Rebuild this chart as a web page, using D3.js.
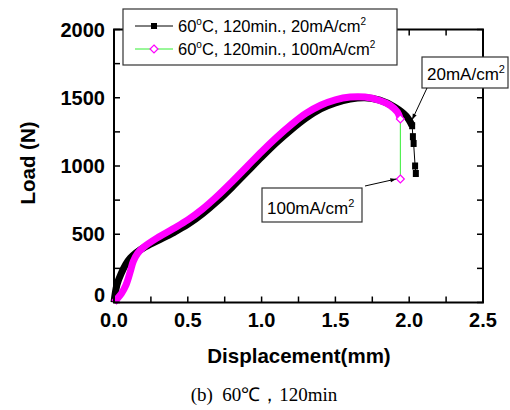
<!doctype html>
<html>
<head>
<meta charset="utf-8">
<title>Load vs displacement</title>
<script src="https://cdn.jsdelivr.net/npm/d3@7"></script>
<style>
  body { margin: 0; background: #fff; }
  svg { display: block; }
  .tick-label { font-family: "Liberation Sans", Arial, sans-serif; font-weight: bold; font-size: 20px; }
  .axis-title { font-family: "Liberation Sans", Arial, sans-serif; font-weight: bold; font-size: 20.5px; }
  .legend-text { font-family: "Liberation Sans", Arial, sans-serif; font-size: 16.5px; }
  .note { font-family: "Liberation Sans", Arial, sans-serif; font-size: 17px; }
</style>
</head>
<body>
<div id="chart"></div>
<script>
  // 20 mA/cm2 - dense part of the curve (drawn as a thick band of markers)
  const blackX = [0, 0.02, 0.05, 0.08, 0.11, 0.15, 0.2, 0.3, 0.4, 0.5, 0.6, 0.7, 0.8, 0.9, 1.0, 1.1, 1.2, 1.3, 1.4, 1.5, 1.6, 1.7, 1.8, 1.9, 1.98, 2.02]
  const blackY = [0, 130, 215, 280, 325, 365, 400, 455, 510, 572, 650, 742, 845, 955, 1065, 1170, 1265, 1350, 1418, 1462, 1490, 1500, 1482, 1432, 1365, 1295]
  // 20 mA/cm2 - sparse tail after the drop
  const blackTailX = [2.02, 2.025, 2.03, 2.04, 2.045]
  const blackTailY = [1295, 1215, 1165, 1000, 945]

  // 100 mA/cm2
  const pinkX = [0, 0.02, 0.05, 0.08, 0.11, 0.13, 0.16, 0.2, 0.3, 0.4, 0.5, 0.6, 0.7, 0.8, 0.9, 1.0, 1.1, 1.2, 1.3, 1.4, 1.5, 1.6, 1.7, 1.8, 1.87, 1.92, 1.94]
  const pinkY = [0, 25, 65, 125, 225, 300, 360, 405, 478, 540, 605, 685, 780, 885, 995, 1105, 1208, 1302, 1385, 1445, 1485, 1505, 1505, 1480, 1445, 1395, 1345]
  const pinkTailX = [1.94, 1.94]
  const pinkTailY = [1345, 905]

  const seriesNames = ['20mA/cm', '100mA/cm']
  const xTicks = [0, 0.5, 1.0, 1.5, 2.0, 2.5]
  const yTicks = [0, 500, 1000, 1500, 2000]

  const width = 510, height = 410
  const margin = {top: 29.5, right: 27, bottom: 107.5, left: 114}

  const svg = d3.select('#chart').append('svg')
    .attr('width', width)
    .attr('height', height)

  const x = d3.scaleLinear().domain([0, 2.5]).range([margin.left, width - margin.right])
  const y = d3.scaleLinear().domain([0, 2000]).range([height - margin.bottom, margin.top])

  const zip = (xs, ys) => xs.map((v, i) => [v, ys[i]])
  const line = d3.line().x(d => x(d[0])).y(d => y(d[1])).curve(d3.curveCatmullRom)
  const lineStraight = d3.line().x(d => x(d[0])).y(d => y(d[1]))

  const plot = svg.append('g')

  // black band (drawn first, sits under the magenta one)
  plot.append('path')
    .attr('d', line(zip(blackX, blackY)))
    .attr('fill', 'none')
    .attr('stroke', '#000')
    .attr('stroke-width', 7)
    .attr('stroke-linejoin', 'round')

  plot.append('path')
    .attr('d', lineStraight(zip(blackTailX, blackTailY)))
    .attr('fill', 'none')
    .attr('stroke', '#000')
    .attr('stroke-width', 1)

  plot.selectAll('rect.sq')
    .data(zip(blackTailX, blackTailY))
    .join('rect')
    .attr('class', 'sq')
    .attr('x', d => x(d[0]) - 3)
    .attr('y', d => y(d[1]) - 3.5)
    .attr('width', 6)
    .attr('height', 7)
    .attr('fill', '#000')

  // magenta band
  plot.append('path')
    .attr('d', line(zip(pinkX, pinkY)))
    .attr('fill', 'none')
    .attr('stroke', '#ff00ff')
    .attr('stroke-width', 7)
    .attr('stroke-linejoin', 'round')

  plot.append('path')
    .attr('d', lineStraight(zip(pinkTailX, pinkTailY)))
    .attr('fill', 'none')
    .attr('stroke', '#33ee33')
    .attr('stroke-width', 1)

  const diamond = d3.symbol().type(d3.symbolDiamond2).size(40)
  plot.selectAll('path.dm')
    .data(zip(pinkTailX, pinkTailY))
    .join('path')
    .attr('class', 'dm')
    .attr('d', diamond)
    .attr('transform', d => `translate(${x(d[0])},${y(d[1])})`)
    .attr('fill', '#fff')
    .attr('stroke', '#ff00ff')
    .attr('stroke-width', 1.2)

  // axes: ticks inside on all four sides
  const x0 = x(0), x1 = x(2.5), y0 = y(0), y1 = y(2000)
  const minorX = d3.range(0, 2.51, 0.25)
  const minorY = d3.range(0, 2001, 250)
  const ax = svg.append('g').attr('stroke', '#000').attr('stroke-width', 1.5)
  minorX.forEach(v => {
    ax.append('line').attr('x1', x(v)).attr('x2', x(v)).attr('y1', y0).attr('y2', y0 - 6)
    ax.append('line').attr('x1', x(v)).attr('x2', x(v)).attr('y1', y1).attr('y2', y1 + 6)
  })
  minorY.forEach(v => {
    ax.append('line').attr('x1', x0).attr('x2', x0 + 6).attr('y1', y(v)).attr('y2', y(v))
    ax.append('line').attr('x1', x1).attr('x2', x1 - 6).attr('y1', y(v)).attr('y2', y(v))
  })
  svg.append('rect')
    .attr('x', x0).attr('y', y1)
    .attr('width', x1 - x0).attr('height', y0 - y1)
    .attr('fill', 'none').attr('stroke', '#000').attr('stroke-width', 2)

  svg.selectAll('text.xt')
    .data(xTicks)
    .join('text')
    .attr('class', 'tick-label')
    .attr('x', d => x(d))
    .attr('y', y0 + 24)
    .attr('text-anchor', 'middle')
    .text(d => d.toFixed(1))

  // the "0" label sits a little higher so it clears "0.0" below it
  svg.selectAll('text.yt')
    .data(yTicks)
    .join('text')
    .attr('class', 'tick-label')
    .attr('x', x0 - 9)
    .attr('y', d => d === 0 ? y(d) - 0.5 : y(d) + 7)
    .attr('text-anchor', 'end')
    .text(d => d)

  svg.append('text')
    .attr('class', 'axis-title')
    .attr('x', 299)
    .attr('y', 363)
    .attr('text-anchor', 'middle')
    .text('Displacement(mm)')

  svg.append('text')
    .attr('class', 'axis-title')
    .attr('transform', 'translate(35,163) rotate(-90)')
    .attr('text-anchor', 'middle')
    .text('Load (N)')

  svg.append('text')
    .attr('x', 264)
    .attr('y', 401)
    .attr('text-anchor', 'middle')
    .attr('font-family', '"Liberation Serif", "Times New Roman", serif')
    .attr('font-size', 19)
    .attr('xml:space', 'preserve')
    .text('(b)  60℃，120min')

  // legend
  const lg = svg.append('g')
  lg.append('rect')
    .attr('x', 123).attr('y', 9).attr('width', 274).attr('height', 56)
    .attr('fill', '#fff').attr('stroke', '#333').attr('stroke-width', 1.2)
  const rows = [
    {name: seriesNames[0], line: '#000', y: 26},
    {name: seriesNames[1], line: '#33ee33', y: 49}
  ]
  rows.forEach((r, i) => {
    lg.append('line').attr('x1', 135).attr('x2', 173).attr('y1', r.y).attr('y2', r.y)
      .attr('stroke', r.line).attr('stroke-width', 1)
    if (i === 0) {
      lg.append('rect').attr('x', 151).attr('y', r.y - 3).attr('width', 6).attr('height', 6).attr('fill', '#000')
    } else {
      lg.append('path').attr('d', diamond).attr('transform', `translate(154,${r.y})`)
        .attr('fill', '#fff').attr('stroke', '#ff00ff').attr('stroke-width', 1.2)
    }
    const t = lg.append('text').attr('class', 'legend-text').attr('x', 178).attr('y', r.y + 6)
    t.append('tspan').text('60')
    t.append('tspan').attr('dy', -7).attr('font-size', 10).text('o')
    t.append('tspan').attr('dy', 7).text('C, 120min., ' + r.name)
    t.append('tspan').attr('dy', -7).attr('font-size', 10).text('2')
  })

  // annotations
  const notes = [
    {label: seriesNames[0], bx: 422, by: 57, bw: 86, bh: 31, tip: [blackX[blackX.length - 1], blackY[blackY.length - 1]], dx: 0, dy: -6, from: [427, 88]},
    {label: seriesNames[1], bx: 262, by: 188, bw: 100, bh: 34, tip: [pinkTailX[1], pinkTailY[1]], dx: -4, dy: 0, from: [365, 186]}
  ]
  svg.append('defs').append('marker')
    .attr('id', 'arr').attr('viewBox', '0 0 10 10').attr('refX', 10).attr('refY', 5)
    .attr('markerWidth', 8).attr('markerHeight', 6).attr('orient', 'auto')
    .append('path').attr('d', 'M0,1.5L10,5L0,8.5Z').attr('fill', '#000')
  notes.forEach(n => {
    svg.append('rect').attr('x', n.bx).attr('y', n.by).attr('width', n.bw).attr('height', n.bh)
      .attr('fill', '#fff').attr('stroke', '#333').attr('stroke-width', 1.2)
    const t = svg.append('text').attr('class', 'note').attr('x', n.bx + 5).attr('y', n.by + n.bh - 8).text(n.label)
    t.append('tspan').attr('dy', -7).attr('font-size', 11).text('2')
    svg.append('line').attr('x1', n.from[0]).attr('y1', n.from[1])
      .attr('x2', x(n.tip[0]) + n.dx).attr('y2', y(n.tip[1]) + n.dy)
      .attr('stroke', '#000').attr('stroke-width', 1).attr('marker-end', 'url(#arr)')
  })
</script>
</body>
</html>
